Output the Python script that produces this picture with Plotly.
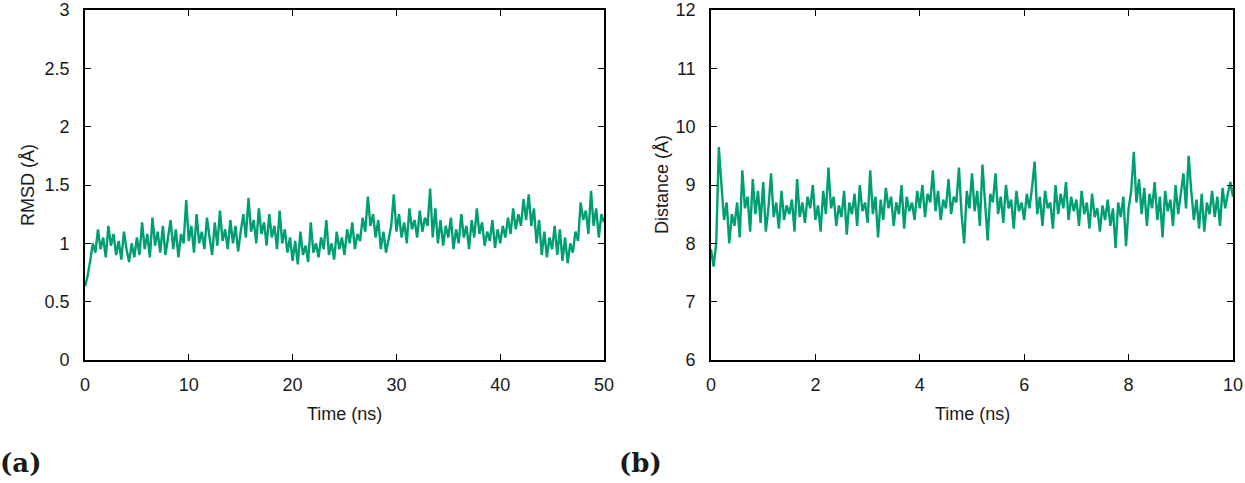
import numpy as np
import plotly.graph_objects as go

# ---- data ----
rmsd_dt = 0.25  # ns
rmsd_values = [
    0.63, 0.72, 0.85, 1.0, 0.92, 1.12, 0.95, 1.05, 0.88, 1.15,
    0.98, 1.08, 0.9, 1.02, 0.86, 1.1, 0.95, 0.84, 1.0, 0.88,
    1.05, 0.9, 1.18, 0.95, 1.08, 0.88, 1.22, 0.98, 1.1, 0.92,
    1.15, 0.9, 1.05, 1.2, 0.95, 1.12, 0.88, 1.08, 1.0, 1.37,
    1.02, 1.15, 0.92, 1.25, 1.0, 1.1, 0.95, 1.22, 1.05, 0.9,
    1.18, 0.98, 1.28, 1.02, 1.12, 0.95, 1.2, 1.0, 1.15, 0.93,
    1.1, 1.25, 1.05, 1.39, 1.1, 1.2, 1.0, 1.3, 1.08, 1.18,
    0.98, 1.25, 1.05, 1.15, 0.95, 1.28, 1.0, 1.12, 0.92, 1.05,
    0.85, 1.02, 0.82, 1.1, 0.9, 0.98, 0.84, 1.18, 0.92, 1.0,
    0.88, 1.05, 0.95, 1.2, 0.9, 1.0, 0.86, 1.1, 0.95, 1.05,
    0.9, 1.12, 1.0, 1.18, 0.95, 1.08, 1.02, 1.22, 1.1, 1.4,
    1.15, 1.25, 1.05, 1.2, 0.95, 1.1, 0.92, 1.05, 1.15, 1.42,
    1.1, 1.25, 1.05, 1.18, 1.0, 1.3, 1.12, 1.2, 1.05, 1.28,
    1.1, 1.22, 1.15, 1.47, 1.05, 1.3, 1.0, 1.2, 0.98, 1.15,
    1.05, 1.22, 0.95, 1.12, 1.0, 1.25, 1.05, 1.15, 0.95, 1.2,
    1.05, 1.3, 1.08, 1.18, 0.98, 1.1, 1.02, 1.2, 0.96, 1.12,
    1.0, 1.15, 1.05, 1.22, 1.08, 1.3, 1.12, 1.25, 1.15, 1.38,
    1.2, 1.42, 1.15, 1.3, 1.0, 1.2, 0.9, 1.1, 0.88, 1.05,
    0.95, 1.15, 0.9, 1.12, 0.85, 1.05, 0.83, 1.0, 0.92, 1.1,
    1.02, 1.35, 1.2, 1.28, 1.08, 1.45, 1.15, 1.3, 1.05, 1.25,
    1.18,
]
dist_dt = 0.05  # ns
dist_values = [
    7.9, 7.6, 8.0, 9.65, 9.0, 8.4, 8.7, 8.0, 8.5, 8.3,
    8.7, 8.1, 9.25, 8.6, 8.8, 8.2, 9.1, 8.5, 8.9, 8.35,
    9.05, 8.2, 8.6, 9.2, 8.45, 8.7, 8.25, 8.9, 8.4, 8.65,
    8.5, 8.75, 8.2, 9.1, 8.45, 8.7, 8.35, 8.8, 8.6, 9.0,
    8.4, 8.65, 8.2, 8.9, 8.5, 9.3, 8.6, 8.8, 8.3, 8.65,
    8.45, 8.9, 8.15, 8.7, 8.5, 8.85, 8.3, 9.0, 8.55, 8.7,
    8.35, 9.25, 8.5, 8.8, 8.1, 8.75, 8.4, 8.95, 8.6, 8.8,
    8.3, 8.7, 8.5, 9.0, 8.25, 8.8, 8.55, 8.7, 8.4, 8.9,
    8.6, 9.0, 8.45, 8.85, 8.7, 9.25, 8.55, 8.9, 8.4, 8.75,
    8.6, 9.1, 8.5, 8.8, 8.7, 9.3, 8.5, 8.0, 8.9, 8.6,
    9.2, 8.55, 8.9, 8.3, 9.35, 8.6, 8.05, 8.85, 8.7, 9.2,
    8.5, 8.8, 8.35, 9.0, 8.6, 8.75, 8.25, 8.9, 8.55, 8.7,
    8.4, 8.85, 8.6, 8.95, 9.4, 8.5, 8.8, 8.3, 8.9, 8.6,
    8.7, 8.25, 9.0, 8.5, 8.85, 8.6, 9.05, 8.4, 8.8, 8.55,
    8.75, 8.3, 8.9, 8.5, 8.7, 8.25, 8.85, 8.45, 8.6, 8.2,
    8.65, 8.4, 8.75, 8.3, 8.6, 7.92, 8.7, 8.45, 8.8, 7.95,
    8.6, 8.9, 9.57, 8.7, 9.1, 8.5, 8.95, 8.3, 8.85, 8.6,
    9.05, 8.4, 8.8, 8.1, 8.9, 8.55, 8.75, 8.3, 9.0, 8.5,
    8.85, 9.2, 8.6, 9.5, 8.9, 8.4, 8.75, 8.25, 8.85, 8.2,
    8.7, 8.5, 8.9, 8.45, 8.8, 8.3, 8.95, 8.6, 8.85, 9.05,
    8.8,
]
rmsd_time = [i * rmsd_dt for i in range(len(rmsd_values))]
dist_time = [i * dist_dt for i in range(len(dist_values))]

rmsd_xticks = [0, 10, 20, 30, 40, 50]
rmsd_yticks = [0, 0.5, 1, 1.5, 2, 2.5, 3]
dist_xticks = [0, 2, 4, 6, 8, 10]
dist_yticks = [6, 7, 8, 9, 10, 11, 12]

LINE = "rgb(0,158,115)"
W, H = 1245, 483
FONT = "Liberation Sans, Arial, sans-serif"
FS = 18
TXT = "#1a1a1a"

def px(X):
    return X / W

def py(Y):
    return 1 - Y / H

fig = go.Figure()
fig.add_trace(go.Scatter(x=rmsd_time, y=rmsd_values, mode="lines",
                         line=dict(color=LINE, width=2.4), xaxis="x", yaxis="y",
                         showlegend=False))
fig.add_trace(go.Scatter(x=dist_time, y=dist_values, mode="lines",
                         line=dict(color=LINE, width=2.4), xaxis="x2", yaxis="y2",
                         showlegend=False))

y_dom = [py(360), py(10)]
axis_common = dict(showline=True, linecolor="black", linewidth=1.6, mirror="allticks",
                   ticks="inside", ticklen=6, tickwidth=1.2, tickcolor="black",
                   showgrid=False, zeroline=False, automargin=False,
                   ticklabeloverflow="allow",
                   tickfont=dict(family=FONT, size=FS, color=TXT))

fig.update_layout(
    width=W, height=H,
    margin=dict(l=0, r=0, t=0, b=0, autoexpand=False),
    paper_bgcolor="white", plot_bgcolor="white",
    xaxis=dict(domain=[px(85), px(604)], range=[0, 50], tickvals=rmsd_xticks,
               anchor="y", ticklabelstandoff=8, **axis_common),
    yaxis=dict(domain=y_dom, range=[0, 3], tickvals=rmsd_yticks,
               ticktext=[f"{v:g}" for v in rmsd_yticks], anchor="x",
               ticklabelstandoff=10, **axis_common),
    xaxis2=dict(domain=[px(711), px(1233)], range=[0, 10], tickvals=dist_xticks,
                anchor="y2", ticklabelstandoff=8, **axis_common),
    yaxis2=dict(domain=y_dom, range=[6, 12], tickvals=dist_yticks,
                anchor="x2", ticklabelstandoff=10, **axis_common),
)

def ann(text, X, Y, size=FS, angle=0, family=FONT, xanchor="center"):
    fig.add_annotation(text=text, x=px(X), y=py(Y), xref="paper", yref="paper",
                       showarrow=False, textangle=angle, xanchor=xanchor, yanchor="middle",
                       font=dict(family=family, size=size, color=TXT))

ann("Time (ns)", 344.5, 414)
ann("Time (ns)", 972, 414)
ann("RMSD (Å)", 28, 185, angle=-90)
ann("Distance (Å)", 662, 185, angle=-90)
ann("<b>(a)</b>", -2, 463, size=26, family="DejaVu Serif, serif", xanchor="left")
ann("<b>(b)</b>", 617, 463, size=26, family="DejaVu Serif, serif", xanchor="left")

fig.write_html("out.html")
